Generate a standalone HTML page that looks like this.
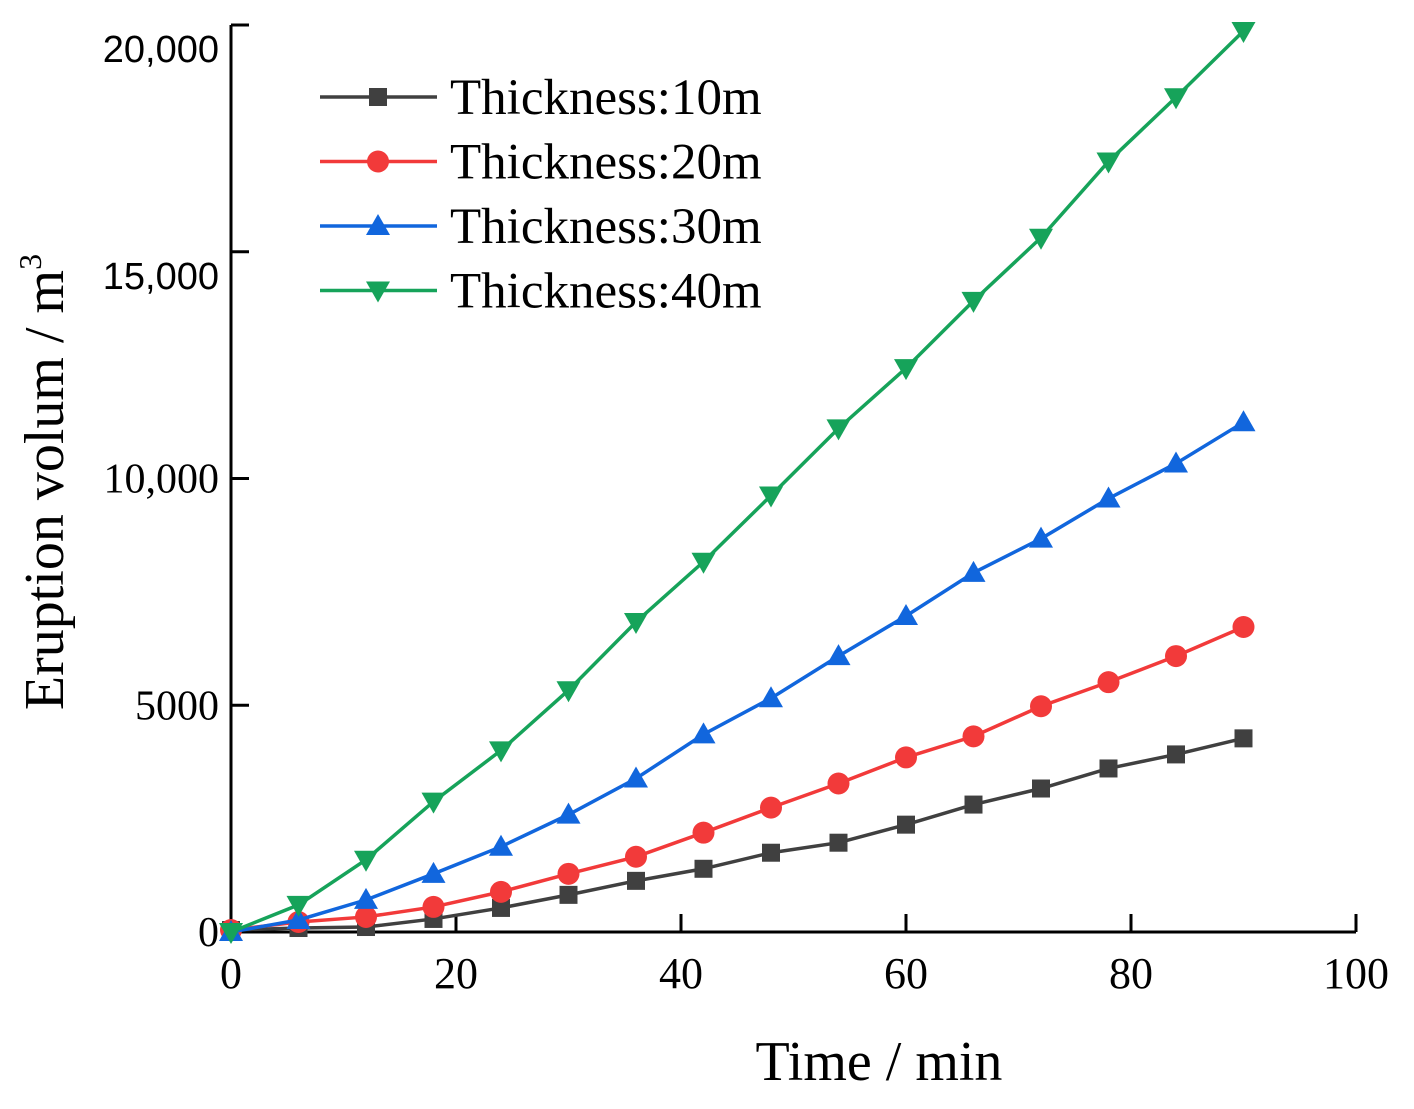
<!DOCTYPE html>
<html><head><meta charset="utf-8"><style>
body{margin:0;background:#fff;}
svg{display:block;font-family:"Liberation Serif",serif;}
</style></head><body>
<svg id="chart" width="1414" height="1109" viewBox="0 0 1414 1109" xmlns="http://www.w3.org/2000/svg">
<g id="axes"></g>
<g id="series"></g>
<g id="legend"></g>
<text x="879" y="1080" font-size="56" text-anchor="middle">Time / min</text>
<text transform="translate(63,482) rotate(-90)" font-size="56" text-anchor="middle">Eruption volum / m<tspan font-size="32" dy="-22">3</tspan></text>
</svg>
<script>
const times=[0,6,12,18,24,30,36,42,48,54,60,66,72,78,84,90];
const s10=[44,88,110,288,531,819,1128,1394,1748,1969,2367,2810,3164,3606,3916,4270];
const s20=[44,221,332,553,885,1283,1659,2190,2743,3274,3850,4314,4978,5509,6084,6726];
const s30=[0,265,708,1283,1881,2588,3385,4358,5155,6084,6969,7920,8673,9558,10332,11239];
const s40=[0,597,1593,2876,4004,5332,6836,8164,9624,11106,12434,13916,15310,16991,18407,19867];
const seriesNames=["Thickness:10m","Thickness:20m","Thickness:30m","Thickness:40m"];
const xTicks=[0,20,40,60,80,100];
const yTicks=[0,5000,10000,15000,20000];
const yTickLabels=["0","5000","10,000","15,000","20,000"];
const NS="http://www.w3.org/2000/svg";
const X0=231,X1=1356,Y0=932,Y1=25;
const xs=v=>X0+(v/100)*(X1-X0);
const ys=v=>Y0-(v/20000)*(Y0-Y1);
function mk(tag,attrs,parent){const e=document.createElementNS(NS,tag);for(const k in attrs)e.setAttribute(k,attrs[k]);parent.appendChild(e);return e;}
const axes=document.getElementById('axes');
let e=mk('line',{x1:X0,y1:Y0,x2:X1,y2:Y0,stroke:'#000','stroke-width':3},axes);


e=mk('line',{x1:X0,y1:Y0,x2:X0,y2:Y1,stroke:'#000','stroke-width':3},axes);


xTicks.forEach(t=>{
 const l=mk('line',{x1:xs(t),y1:Y0,x2:xs(t),y2:Y0-18,stroke:'#000','stroke-width':3},axes);
 
 
 const tx=mk('text',{x:xs(t),y:Y0+56,'font-size':44,'text-anchor':'middle'},axes);
 tx.textContent=String(t);
 
 
});
yTicks.forEach((t,i)=>{
 const l=mk('line',{x1:X0,y1:ys(t),x2:X0+18,y2:ys(t),stroke:'#000','stroke-width':3},axes);
 
 
 const big=t>=15000;
 const tx=mk('text',{x:X0-12,y:ys(t)+(big?37:14),'font-size':big?38:42,'text-anchor':'end','font-family':big?'Liberation Sans, sans-serif':'Liberation Serif, serif'},axes);
 tx.textContent=yTickLabels[i];
 
 
});
const colors=['#404040','#f23a3a','#1166dd','#16a35a'];
const markers=['square','circle','up','down'];
function marker(g,type,cx,cy,c){
 let m;
 if(type==='square')m=mk('rect',{x:cx-9,y:cy-9,width:18,height:18,fill:c},g);
 else if(type==='circle')m=mk('circle',{cx:cx,cy:cy,r:11,fill:c},g);
 else if(type==='up')m=mk('polygon',{points:`${cx},${cy-12} ${cx-12},${cy+9} ${cx+12},${cy+9}`,fill:c},g);
 else m=mk('polygon',{points:`${cx},${cy+12} ${cx-12},${cy-9} ${cx+12},${cy-9}`,fill:c},g);
 
 
}
const sg=document.getElementById('series');
[s10,s20,s30,s40].forEach((arr,i)=>{
 const g=mk('g',{},sg);
 
 
 const p=mk('polyline',{points:arr.map((v,j)=>xs(times[j])+','+ys(v)).join(' '),fill:'none',stroke:colors[i],'stroke-width':3.5},g);
 
 
 arr.forEach((v,j)=>marker(g,markers[i],xs(times[j]),ys(v),colors[i]));
});
const lg=document.getElementById('legend');
seriesNames.forEach((n,i)=>{
 const y=97+i*64.5;
 const g=mk('g',{},lg);
 
 
 mk('line',{x1:320,y1:y,x2:437,y2:y,stroke:colors[i],'stroke-width':3.5},g);
 marker(g,markers[i],378,y,colors[i]);
 const t=mk('text',{x:450,y:y+17,'font-size':51},g);
 t.textContent=n;
 
 
});
</script>
</body></html>
